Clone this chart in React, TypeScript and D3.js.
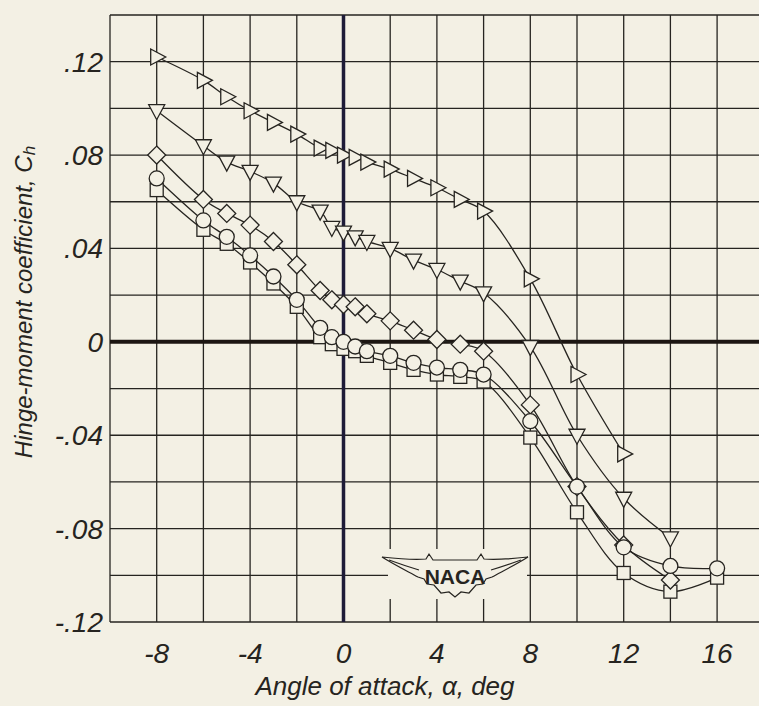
import React from 'react';
import * as d3 from 'd3';

// angle of attack, deg
const alphaTri = [-8, -6, -5, -4, -3, -2, -1, -0.5, 0, 0.5, 1, 2, 3, 4, 5, 6, 8, 10, 12];
const alphaDown = [-8, -6, -5, -4, -3, -2, -1, -0.5, 0, 0.5, 1, 2, 3, 4, 5, 6, 8, 10, 12, 14];
const alphaDiamond = [-8, -6, -5, -4, -3, -2, -1, -0.5, 0, 0.5, 1, 2, 3, 4, 5, 6, 8, 10, 12, 14];
const alphaCircle = [-8, -6, -5, -4, -3, -2, -1, -0.5, 0, 0.5, 1, 2, 3, 4, 5, 6, 8, 10, 12, 14, 16];
const alphaSquare = [-8, -6, -5, -4, -3, -2, -1, -0.5, 0, 0.5, 1, 2, 3, 4, 5, 6, 8, 10, 12, 14, 16];

// hinge-moment coefficient, Ch
const chTri = [0.122, 0.112, 0.105, 0.099, 0.094, 0.089, 0.083, 0.082, 0.080, 0.079, 0.077, 0.074, 0.070, 0.066, 0.061, 0.056, 0.027, -0.014, -0.048];
const chDown = [0.099, 0.084, 0.077, 0.073, 0.068, 0.060, 0.056, 0.049, 0.047, 0.045, 0.043, 0.040, 0.035, 0.031, 0.026, 0.021, -0.002, -0.040, -0.067, -0.084];
const chDiamond = [0.080, 0.061, 0.055, 0.050, 0.043, 0.033, 0.022, 0.018, 0.016, 0.015, 0.012, 0.009, 0.005, 0.001, -0.001, -0.004, -0.027, -0.062, -0.087, -0.102];
const chCircle = [0.070, 0.052, 0.045, 0.037, 0.028, 0.018, 0.006, 0.002, 0.000, -0.002, -0.004, -0.006, -0.009, -0.011, -0.012, -0.014, -0.034, -0.062, -0.088, -0.096, -0.097];
const chSquare = [0.065, 0.048, 0.042, 0.034, 0.025, 0.015, 0.002, -0.001, -0.003, -0.004, -0.006, -0.009, -0.012, -0.014, -0.015, -0.017, -0.041, -0.073, -0.099, -0.107, -0.101];

const xTicks = [-8, -4, 0, 4, 8, 12, 16];
const yTicks = [0.12, 0.08, 0.04, 0, -0.04, -0.08, -0.12];
const yTickLabels = ['.12', '.08', '.04', '0', '-.04', '-.08', '-.12'];

const W = 759;
const H = 706;
const BG = '#f3f0e4';
const INK = '#262420';

const x = d3.scaleLinear().domain([-10, 18]).range([110, 763.8]);
const y = d3.scaleLinear().domain([-0.12, 0.14]).range([622, 15]);

type Marker = 'tri' | 'down' | 'diamond' | 'circle' | 'square';

const series: { xs: number[]; ys: number[]; marker: Marker }[] = [
  { xs: alphaSquare, ys: chSquare, marker: 'square' },
  { xs: alphaDiamond, ys: chDiamond, marker: 'diamond' },
  { xs: alphaCircle, ys: chCircle, marker: 'circle' },
  { xs: alphaDown, ys: chDown, marker: 'down' },
  { xs: alphaTri, ys: chTri, marker: 'tri' },
];

const line = d3
  .line<[number, number]>()
  .x((d) => x(d[0]))
  .y((d) => y(d[1]))
  .curve(d3.curveCatmullRom.alpha(0.5));

function drawMarker(m: Marker, cx: number, cy: number, key: string) {
  const common = { fill: BG, stroke: INK, strokeWidth: 1.3 };
  if (m === 'circle') return <circle key={key} cx={cx} cy={cy} r={7.5} {...common} />;
  if (m === 'square') return <rect key={key} x={cx - 6.5} y={cy - 6.5} width={13} height={13} {...common} />;
  let pts: number[][] = [];
  if (m === 'tri') pts = [[-6, -8], [-6, 8], [9, 0]];
  if (m === 'down') pts = [[-8, -6], [8, -6], [0, 9]];
  if (m === 'diamond') pts = [[0, -9], [9, 0], [0, 9], [-9, 0]];
  return <polygon key={key} points={pts.map((p) => `${cx + p[0]},${cy + p[1]}`).join(' ')} {...common} />;
}

const gridX = d3.range(-10, 18.01, 2);
const gridY = d3.range(-0.12, 0.1401, 0.02);

export default function App() {
  const logoX = 455;
  const logoY = 576;
  return (
    <svg width={W} height={H} style={{ position: 'absolute', left: 0, top: 0 }}>
      <rect width={W} height={H} fill={BG} />
      <g stroke={INK} strokeWidth={1.3}>
        {gridX.map((v) => (
          <line key={'gx' + v} x1={x(v)} x2={x(v)} y1={y(0.14)} y2={y(-0.12)} />
        ))}
        {gridY.map((v) => (
          <line key={'gy' + v} x1={x(-10)} x2={x(18)} y1={y(v)} y2={y(v)} />
        ))}
      </g>
      <line x1={x(-10)} x2={x(18)} y1={y(0)} y2={y(0)} stroke="#1c1612" strokeWidth={4} />
      <line x1={x(0)} x2={x(0)} y1={y(0.14)} y2={y(-0.12)} stroke="#1e1b38" strokeWidth={3.5} />

      {/* NACA logo */}
      <rect x={388} y={549} width={139} height={50} fill={BG} />
      <g transform={`translate(${logoX},${logoY})`} fill={BG} stroke={INK} strokeWidth={1.2}>
        <path d="M -73,-19 C -55,-17 -40,-16 -29,-17 L -26,-22 L -22,-16 L 22,-16 L 26,-22 L 29,-17 C 40,-16 55,-17 73,-19 C 62,-12 48,-5 37,1 L 31,3 L 28,8 L 21,9 L 14,17 L 6,16 L 0,21 L -6,16 L -14,17 L -21,9 L -28,8 L -31,3 L -37,1 C -48,-5 -62,-12 -73,-19 Z" />
        <path d="M -66,-16 C -55,-12 -46,-9 -36,-6 M 66,-16 C 55,-12 46,-9 36,-6" fill="none" />
        <text x={0} y={8} textAnchor="middle" fontFamily="Liberation Sans, Arial" fontWeight="bold" fontSize={21} fill={INK} stroke="none">
          NACA
        </text>
      </g>

      {series.map((s, i) => (
        <path
          key={'l' + i}
          d={line(s.xs.map((v, j) => [v, s.ys[j]] as [number, number])) || ''}
          fill="none"
          stroke={INK}
          strokeWidth={1.3}
        />
      ))}
      {series.map((s, i) => (
        <g key={'m' + i}>{s.xs.map((v, j) => drawMarker(s.marker, x(v), y(s.ys[j]), `${i}-${j}`))}</g>
      ))}

      <g fontFamily="Liberation Sans, Arial" fontStyle="italic" fill={INK}>
        {yTicks.map((v, i) => (
          <text key={'yt' + i} x={103} y={y(v) + 10} textAnchor="end" fontSize={28}>
            {yTickLabels[i]}
          </text>
        ))}
        {xTicks.map((v) => (
          <text key={'xt' + v} x={x(v)} y={663} textAnchor="middle" fontSize={28}>
            {v}
          </text>
        ))}
        <text x={385} y={695} textAnchor="middle" fontSize={26}>
          Angle of attack, α, deg
        </text>
        <text transform="translate(32,302) rotate(-90)" textAnchor="middle" fontSize={24}>
          Hinge-moment coefficient, C
          <tspan fontSize={17} dy={3}>h</tspan>
        </text>
      </g>
    </svg>
  );
}
